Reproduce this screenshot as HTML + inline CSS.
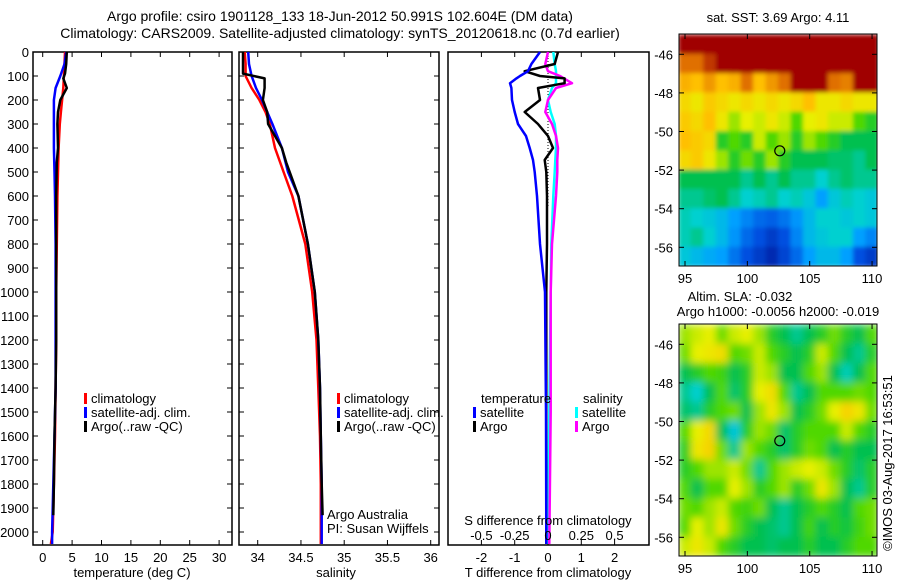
<!DOCTYPE html>
<html><head><meta charset="utf-8"><style>
body{margin:0;background:#fff}
svg{display:block;font-family:"Liberation Sans",sans-serif;font-size:13px}
</style></head><body>
<svg id="c" width="900" height="580" viewBox="0 0 900 580">
<defs>
<filter id="blur1" x="0" y="0" width="100%" height="100%"><feGaussianBlur stdDeviation="2" edgeMode="duplicate"/></filter>
<filter id="blur2" x="0" y="0" width="100%" height="100%"><feGaussianBlur stdDeviation="4" edgeMode="duplicate"/></filter>
<clipPath id="cm1"><rect x="679" y="34" width="198" height="232"/></clipPath>
<clipPath id="cm2"><rect x="679" y="324" width="198" height="232"/></clipPath>
</defs>
<text x="340" y="21" text-anchor="middle" font-size="14">Argo profile: csiro 1901128_133 18-Jun-2012 50.991S 102.604E (DM data)</text>
<text x="340" y="38" text-anchor="middle" font-size="14">Climatology: CARS2009. Satellite-adjusted climatology: synTS_20120618.nc (0.7d earlier)</text>
<text x="778" y="22" text-anchor="middle">sat. SST: 3.69 Argo: 4.11</text>
<text x="740" y="301" text-anchor="middle">Altim. SLA: -0.032</text>
<text x="778" y="316" text-anchor="middle">Argo h1000: -0.0056 h2000: -0.019</text>
<text transform="translate(892,463) rotate(-90)" text-anchor="middle">©IMOS 03-Aug-2017 16:53:51</text>
<g id="g"></g>
</svg>
<script>
// ---------- data ----------
const depthTicks=[0,100,200,300,400,500,600,700,800,900,1000,1100,1200,1300,1400,1500,1600,1700,1800,1900,2000];
const profDepth=[0,50,100,150,200,250,300,400,500,600,800,1000,1200,1400,1600,1800,2000,2050];
const climT=[3.8,3.7,3.6,3.5,3.3,3.1,2.9,2.7,2.6,2.5,2.4,2.3,2.3,2.2,2.1,1.9,1.7,1.4];
const satT=[4.0,3.7,3.0,2.2,1.9,1.9,1.9,1.9,2.0,2.1,2.2,2.2,2.2,2.2,2.0,1.8,1.6,1.6];
const argoDepth=[0,50,90,110,150,200,250,300,400,460,600,800,1000,1200,1400,1600,1800,1930];
const argoT=[4.1,4.0,3.8,3.5,4.1,3.0,2.6,2.5,2.6,2.4,2.3,2.3,2.3,2.3,2.2,2.0,1.9,1.8];
const climS=[33.85,33.86,33.86,33.93,34.02,34.09,34.14,34.2,34.3,34.4,34.55,34.63,34.68,34.7,34.72,34.73,34.73,34.73];
const satS=[33.89,33.9,33.93,33.98,34.05,34.11,34.17,34.28,34.35,34.47,34.58,34.66,34.7,34.72,34.73,34.74,34.74,34.74];
const argoS=[33.83,33.83,33.83,34.08,34.08,34.06,34.11,34.12,34.28,34.33,34.47,34.58,34.66,34.7,34.72,34.73,34.74,34.75];
const dDepth=[0,50,80,100,110,130,150,200,250,300,350,400,450,500,600,800,1000,1500,2050];
const satTdiff=[-0.24,-0.5,-0.6,-0.84,-0.95,-1.14,-1.1,-1.08,-1.0,-0.9,-0.66,-0.55,-0.45,-0.4,-0.33,-0.24,-0.09,-0.06,-0.05];
const argoTdiff=[0.3,0.2,-0.7,-0.24,0.5,0.5,-0.3,-0.24,-0.7,-0.3,0,0.15,-0.1,-0.05,-0.03,-0.03,-0.05,-0.05,-0.05];
const argoSdiff=[0,-0.02,0,0.09,0.12,0.18,0.06,0,-0.02,0.03,0.06,0.075,0.07,0.07,0.06,0.03,0.02,0.02,0.01];
const satSdiff=[0.04,0.05,0.06,0.06,0.06,0.06,0.03,0,0.02,0.05,0.06,0.06,0.055,0.05,0.04,0.025,0.02,0.01,0.0];
const tempTicks=[0,5,10,15,20,25,30];
const salTicks=[34,34.5,35,35.5,36];
const tdTicks=[-2,-1,0,1,2];
const sdTicks=[-0.5,-0.25,0,0.25,0.5];
const lonTicks=[95,100,105,110];
const latTicks=[-46,-48,-50,-52,-54,-56];
const sstGrid=[
[1,1,1,1,1,1,1,1,1,1,1,1,1,1,1,1],
[0.9,0.9,0.95,1,1,1,1,1,1,1,1,1,1,1,1,1],
[0.82,0.8,0.85,0.8,0.82,0.9,0.8,0.85,0.9,1,1,1,0.9,0.88,1,1],
[0.75,0.72,0.78,0.75,0.72,0.75,0.72,0.75,0.72,0.75,0.8,0.72,0.72,0.75,0.72,0.72],
[0.78,0.75,0.8,0.72,0.65,0.7,0.68,0.72,0.68,0.6,0.7,0.72,0.68,0.68,0.6,0.55],
[0.8,0.78,0.75,0.55,0.6,0.55,0.68,0.6,0.65,0.55,0.65,0.6,0.55,0.5,0.5,0.5],
[0.75,0.78,0.72,0.65,0.55,0.62,0.55,0.65,0.55,0.5,0.5,0.5,0.48,0.48,0.45,0.5],
[0.5,0.5,0.5,0.5,0.5,0.45,0.5,0.45,0.5,0.45,0.45,0.4,0.45,0.48,0.45,0.45],
[0.45,0.45,0.48,0.5,0.45,0.4,0.42,0.45,0.4,0.42,0.38,0.3,0.38,0.42,0.4,0.38],
[0.42,0.4,0.38,0.35,0.3,0.25,0.2,0.18,0.22,0.28,0.35,0.4,0.4,0.38,0.4,0.38],
[0.42,0.45,0.4,0.35,0.28,0.2,0.15,0.1,0.15,0.25,0.35,0.38,0.4,0.4,0.3,0.25],
[0.38,0.35,0.32,0.3,0.22,0.15,0.1,0.05,0.12,0.2,0.3,0.35,0.35,0.3,0.15,0.1]];
const slaGrid=[
[0.65,0.68,0.7,0.62,0.68,0.7,0.65,0.55,0.5,0.45,0.5,0.55,0.62,0.55,0.5,0.6],
[0.62,0.7,0.72,0.74,0.6,0.62,0.68,0.6,0.55,0.5,0.55,0.68,0.6,0.5,0.45,0.55],
[0.5,0.55,0.6,0.58,0.5,0.55,0.68,0.65,0.5,0.5,0.6,0.65,0.5,0.42,0.5,0.6],
[0.45,0.4,0.5,0.6,0.48,0.55,0.7,0.74,0.6,0.45,0.5,0.6,0.6,0.6,0.62,0.6],
[0.48,0.45,0.55,0.6,0.62,0.5,0.65,0.72,0.65,0.5,0.55,0.62,0.7,0.76,0.72,0.62],
[0.6,0.7,0.75,0.5,0.38,0.55,0.65,0.62,0.48,0.55,0.6,0.6,0.6,0.68,0.6,0.55],
[0.55,0.72,0.76,0.62,0.45,0.65,0.6,0.55,0.48,0.55,0.62,0.6,0.5,0.55,0.5,0.5],
[0.55,0.6,0.65,0.65,0.68,0.62,0.45,0.6,0.65,0.68,0.7,0.68,0.62,0.55,0.48,0.55],
[0.6,0.5,0.6,0.6,0.7,0.65,0.55,0.6,0.65,0.55,0.62,0.72,0.65,0.5,0.45,0.55],
[0.62,0.6,0.65,0.68,0.6,0.58,0.62,0.5,0.45,0.5,0.55,0.6,0.55,0.5,0.6,0.62],
[0.6,0.7,0.65,0.72,0.62,0.55,0.5,0.48,0.45,0.5,0.58,0.5,0.55,0.52,0.58,0.62],
[0.68,0.72,0.68,0.6,0.55,0.5,0.5,0.48,0.5,0.5,0.55,0.5,0.5,0.55,0.6,0.6]];
const floatLon=[102.6], floatLat=[-51.0];

// ---------- helpers ----------
const NS='http://www.w3.org/2000/svg';
const G=document.getElementById('g');
function mk(tag,attrs,parent){const e=document.createElementNS(NS,tag);for(const k in attrs)e.setAttribute(k,attrs[k]);(parent||G).appendChild(e);return e;}
function txt(x,y,s,anchor,parent){const t=mk('text',{x:x,y:y,'text-anchor':anchor||'start'},parent);t.textContent=s;return t;}
const Y0=52,YB=545;
const yD=d=>Y0+d*0.24;
const xT=v=>42.7+5.88*v;
const xS=v=>257.7+86.5*(v-34);
const xTd=v=>548+33.3*v;
const xSd=v=>548+133.2*v;
function line(xs,ys,xf,col,name){
  const pts=xs.map((v,i)=>xf(v).toFixed(1)+','+yD(ys[i]).toFixed(1)).join(' ');
  const p=mk('polyline',{points:pts,fill:'none',stroke:col,'stroke-width':2.5,'stroke-linejoin':'round'});
  
  
  return p;
}
function frame(x0,x1,name,xticks,xf,yt){
  const r=mk('rect',{x:x0,y:Y0,width:x1-x0,height:YB-Y0,fill:'none',stroke:'#000','stroke-width':1.5});
  
  
  xticks.forEach(v=>{const x=xf(v);mk('line',{x1:x,x2:x,y1:Y0,y2:Y0+5,stroke:'#000'});mk('line',{x1:x,x2:x,y1:YB,y2:YB-5,stroke:'#000'});});
  if(yt) depthTicks.forEach(d=>{const y=yD(d);mk('line',{x1:x0,x2:x0+5,y1:y,y2:y,stroke:'#000'});mk('line',{x1:x1,x2:x1-5,y1:y,y2:y,stroke:'#000'});});
}
function legendEntry(x,y,col,label,name){
  const g=mk('g',{});
  
  
  mk('rect',{x:x,y:y-10,width:3,height:11,fill:col},g);
  txt(x+7,y,label,'start',g);
}

// ---------- panel 1: temperature ----------
frame(33,232,'temperature-panel',tempTicks,xT,true);
depthTicks.forEach(d=>{const t=txt(29,yD(d)+5,String(d),'end');});
tempTicks.forEach(v=>{const t=txt(xT(v),562,String(v),'middle');});
txt(132,577,'temperature (deg C)','middle');
line(climT,profDepth,xT,'#f00','climatology-temp-line');
line(satT,profDepth,xT,'#00f','satellite-temp-line');
line(argoT,argoDepth,xT,'#000','argo-temp-line');
legendEntry(84,403,'#f00','climatology','legend-climatology');
legendEntry(84,417,'#00f','satellite-adj. clim.','legend-satellite');
legendEntry(84,431,'#000','Argo(..raw -QC)','legend-argo');

// ---------- panel 2: salinity ----------
frame(239,439,'salinity-panel',salTicks,xS,true);
salTicks.forEach(v=>{const t=txt(xS(v),562,String(v),'middle');});
txt(336,577,'salinity','middle');
line(climS,profDepth,xS,'#f00','climatology-salinity-line');
line(satS,profDepth,xS,'#00f','satellite-salinity-line');
line(argoS,argoDepth,xS,'#000','argo-salinity-line');
legendEntry(337,403,'#f00','climatology','legend-climatology-2');
legendEntry(337,417,'#00f','satellite-adj. clim.','legend-satellite-2');
legendEntry(337,431,'#000','Argo(..raw -QC)','legend-argo-2');
txt(327,519,'Argo Australia');
txt(327,533,'PI: Susan Wijffels');

// ---------- panel 3: differences ----------
frame(448,649,'difference-panel',tdTicks,xTd,false);
mk('line',{x1:548,x2:548,y1:Y0,y2:yD(650),stroke:'#000','stroke-dasharray':'1,2'});
line(satSdiff,dDepth,xSd,'#0ff','satellite-salinity-diff-line');
line(argoSdiff,dDepth,xSd,'#f0f','argo-salinity-diff-line');
line(argoTdiff,dDepth,xTd,'#000','argo-temp-diff-line');
line(satTdiff,dDepth,xTd,'#00f','satellite-temp-diff-line');
txt(481,403,'temperature');
txt(583,403,'salinity');
legendEntry(473,417,'#00f','satellite','legend-temp-satellite');
legendEntry(473,431,'#000','Argo','legend-temp-argo');
legendEntry(575,417,'#0ff','satellite','legend-sal-satellite');
legendEntry(575,431,'#f0f','Argo','legend-sal-argo');
txt(548,525,'S difference from climatology','middle');
sdTicks.forEach(v=>{const t=txt(xSd(v),540,String(v),'middle');});
tdTicks.forEach(v=>{const t=txt(xTd(v),562,String(v),'middle');});
txt(548,577,'T difference from climatology','middle');

// ---------- maps ----------
const cstops=[[0,[0,26,153]],[0.15,[0,80,224]],[0.3,[0,160,255]],[0.4,[0,208,208]],[0.5,[0,192,80]],[0.6,[80,216,0]],[0.7,[232,240,0]],[0.8,[255,192,0]],[0.9,[224,112,0]],[1,[160,0,0]]];
function cmap(v){for(let i=1;i<cstops.length;i++){if(v<=cstops[i][0]){const a=cstops[i-1],b=cstops[i];const t=(v-a[0])/(b[0]-a[0]);return 'rgb('+a[1].map((c,k)=>Math.round(c+(b[1][k]-c)*t)).join(',')+')';}}return 'rgb(160,0,0)';}
function drawMap(top,grid,name,blur,clip){
  const xL=lon=>685+(lon-95)*12.47;
  const yL=lat=>top+20.3+(-46-lat)*19.3;
  const g=mk('g',{'clip-path':'url(#'+clip+')'});
  
  
  const gi=mk('g',{filter:'url(#'+blur+')'},g);
  grid.forEach((row,r)=>row.forEach((v,c)=>{
    const lon0=94.5+c, lat0=-45-r;
    const cell=mk('rect',{x:xL(lon0)-0.5,y:yL(lat0)-0.5,width:12.47+1,height:19.3+1,fill:cmap(v)},gi);
    
    
  }));
  mk('rect',{x:679,y:top,width:198,height:232,fill:'none',stroke:'#000'});
  lonTicks.forEach(l=>{const x=xL(l);mk('line',{x1:x,x2:x,y1:top+232,y2:top+227,stroke:'#000'});mk('line',{x1:x,x2:x,y1:top,y2:top+5,stroke:'#000'});const t=txt(x,top+249,String(l),'middle');});
  latTicks.forEach(l=>{const y=yL(l);mk('line',{x1:679,x2:684,y1:y,y2:y,stroke:'#000'});mk('line',{x1:877,x2:872,y1:y,y2:y,stroke:'#000'});const t=txt(673,y+5,String(l),'end');});
  floatLon.forEach((lo,i)=>{const c=mk('circle',{cx:xL(lo),cy:yL(floatLat[i]),r:5,fill:'none',stroke:'#000','stroke-width':1.2});});
}
drawMap(34,sstGrid,'sst-map','blur1','cm1');
drawMap(324,slaGrid,'sla-map','blur2','cm2');
</script>
</body></html>
